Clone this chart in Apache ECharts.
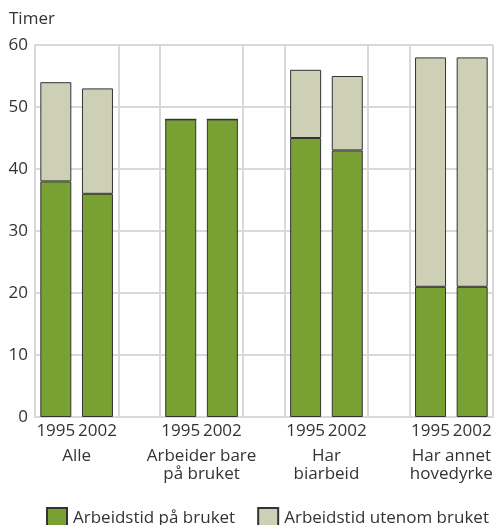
<!DOCTYPE html>
<html>
<head>
<meta charset="utf-8">
<script src="https://cdn.jsdelivr.net/npm/echarts@6/dist/echarts.min.js"></script>
<style>html,body{margin:0;padding:0;background:#fff}#c{width:496px;height:525px}</style>
</head>
<body>
<div id="c"></div>
<script>
// slots: two years per group, blank slot between groups
var years = ['1995', '2002', '', '1995', '2002', '', '1995', '2002', '', '1995', '2002'];
var groups = ['Alle', 'Arbeider bare\npå bruket', 'Har\nbiarbeid', 'Har annet\nhovedyrke'];
var groupCenters = [1, 4, 7, 10];
var onFarm = [38, 36, '-', 48, 48, '-', 45, 43, '-', 21, 21];
var offFarm = [16, 17, '-', 0, 0, '-', 11, 12, '-', 37, 37];
var yTicks = [0, 10, 20, 30, 40, 50, 60];
var seriesNames = ['Arbeidstid på bruket', 'Arbeidstid utenom bruket'];

var font = 'Open Sans';
var fs = 17;
var txt = '#333';
var grid = '#d9d9d9';
var chart = echarts.init(document.getElementById('c'));
var splitIdx = {0:1, 2:1, 3:1, 5:1, 6:1, 8:1, 9:1, 11:1};
chart.setOption({
  animation: false,
  textStyle: {fontFamily: font},
  grid: {left: 35, right: 1, top: 45, bottom: 108, containLabel: false},
  title: {text: 'Timer', left: 4, top: 6, textStyle: {fontFamily: font, fontSize: fs, fontWeight: 'normal', color: txt}},
  legend: {
    left: 46, top: 507, padding: 0, itemWidth: 20, itemHeight: 20, itemGap: 22,
    icon: 'rect',
    textStyle: {fontFamily: font, fontSize: fs, color: txt, padding: [2, 0, 0, 1]},
    data: seriesNames
  },
  xAxis: [{
    type: 'category', data: years,
    axisLine: {show: true, lineStyle: {color: grid, width: 2}},
    axisTick: {show: false},
    axisLabel: {fontFamily: font, fontSize: fs, color: txt, margin: 6, interval: 0},
    splitLine: {show: true, interval: function (i) { return !!splitIdx[i]; }, lineStyle: {color: grid, width: 2}}
  }, {
    type: 'value', min: 0, max: 11, interval: 1, position: 'bottom',
    axisLine: {show: false}, axisTick: {show: false}, splitLine: {show: false},
    axisLabel: {
      fontFamily: font, fontSize: fs, color: txt, margin: 30, lineHeight: 18,
      showMinLabel: true, showMaxLabel: true,
      formatter: function (v) { var k = groupCenters.indexOf(v); return k >= 0 ? groups[k] : ''; }
    }
  }],
  yAxis: {
    type: 'value', min: yTicks[0], max: yTicks[yTicks.length - 1], interval: 10,
    axisLine: {show: true, lineStyle: {color: grid, width: 2}},
    axisTick: {show: false},
    axisLabel: {fontFamily: font, fontSize: fs, color: txt, margin: 7},
    splitLine: {lineStyle: {color: grid, width: 2}}
  },
  series: [{
    name: seriesNames[0], type: 'bar', stack: 't', data: onFarm, barWidth: 31,
    itemStyle: {color: '#78a032', borderColor: '#333', borderWidth: 1}
  }, {
    name: seriesNames[1], type: 'bar', stack: 't', data: offFarm, barWidth: 31,
    itemStyle: {color: '#cdd0b4', borderColor: '#333', borderWidth: 1}
  }]
});
</script>
</body>
</html>
